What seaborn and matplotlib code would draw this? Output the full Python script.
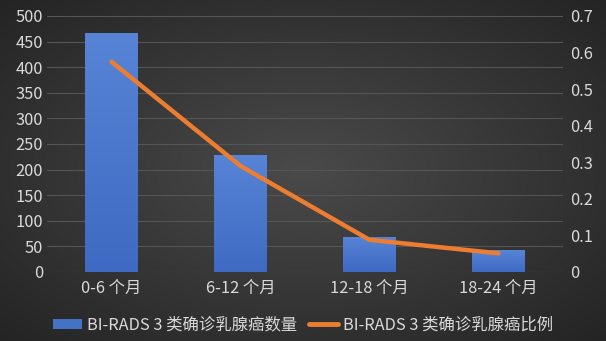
import numpy as np
import pandas as pd
import seaborn as sns
import matplotlib
matplotlib.use("Agg")
import matplotlib.pyplot as plt
from matplotlib.lines import Line2D
from matplotlib.patches import Patch

categories = ["0-6 个月", "6-12 个月", "12-18 个月", "18-24 个月"]
counts = [467, 229, 69, 42]
ratios = [0.575, 0.29, 0.088, 0.051]
left_ticks = [0, 50, 100, 150, 200, 250, 300, 350, 400, 450, 500]
right_ticks = [0, 0.1, 0.2, 0.3, 0.4, 0.5, 0.6, 0.7]
bar_label = "BI-RADS 3 类确诊乳腺癌数量"
line_label = "BI-RADS 3 类确诊乳腺癌比例"

sns.set_theme(style="dark")
plt.rcParams['font.family'] = ['Noto Sans CJK SC', 'DejaVu Sans']
FS = 11.8
TXT = "#d9d9d9"
BLUE = "#4472c4"
ORANGE = "#ed7d31"

fig = plt.figure(figsize=(6.06, 3.41), dpi=100)

# radial gradient background
bg = fig.add_axes([0, 0, 1, 1], zorder=-10)
yy, xx = np.mgrid[-1:1:341j, -1:1:606j]
r = np.sqrt(xx**2 + yy**2) / np.sqrt(2)
c0 = np.array([0x4a, 0x4a, 0x4a]) / 255
c1 = np.array([0x24, 0x24, 0x24]) / 255
img = c0[None, None, :] * (1 - r[..., None]) + c1[None, None, :] * r[..., None]
bg.imshow(img, aspect="auto", extent=[0, 1, 0, 1])
bg.set_axis_off()

df = pd.DataFrame({"cat": categories, "count": counts, "ratio": ratios})

ax = fig.add_axes([47/606, 1 - 272/341, (563-47)/606, (272-16)/341])
ax.set_facecolor("none")
sns.barplot(data=df, x="cat", y="count", color=BLUE, width=0.41, ax=ax,
            saturation=1, zorder=2, linewidth=0, edgecolor="none")
# gradient on bars
grad = np.linspace(0, 1, 100)[:, None]
top = np.array([0x57, 0x84, 0xd5]) / 255
bot = np.array([0x3e, 0x6a, 0xc3]) / 255
gimg = top[None, None, :] * (1 - grad[..., None]) + bot[None, None, :] * grad[..., None]
gimg = np.repeat(gimg, 2, axis=1)
for p in ax.patches:
    x0, y0 = p.get_x(), p.get_y()
    w, h = p.get_width(), p.get_height()
    im = ax.imshow(gimg, extent=[x0, x0 + w, y0, y0 + h], aspect="auto", zorder=2.5)
    im.set_clip_path(p)
ax.set_ylim(0, 500)
ax.set_xlim(-0.5, 3.5)
ax.set_yticks(left_ticks)
ax.set_yticklabels([str(t) for t in left_ticks])
ax.grid(axis="y", color="#555555", linewidth=0.8, zorder=0)
ax.grid(axis="x", visible=False)
ax.set_axisbelow(True)
for s in ax.spines.values():
    s.set_visible(False)
ax.tick_params(axis="both", length=0, colors=TXT, labelsize=FS)
ax.tick_params(axis="y", pad=3)
ax.tick_params(axis="x", pad=6)
ax.set_xlabel("")
ax.set_ylabel("")

ax2 = ax.twinx()
sns.pointplot(data=df, x="cat", y="ratio", color=ORANGE, markers="",
              linewidth=3.2, ax=ax2, errorbar=None)
ax2.set_ylim(0, 0.7)
ax2.set_xlim(-0.5, 3.5)
ax2.set_yticks(right_ticks)
ax2.set_yticklabels(["0"] + [f"{t:.1f}" for t in right_ticks[1:]])
ax2.tick_params(axis="y", length=0, colors=TXT, labelsize=FS, pad=5)
ax2.grid(False)
for s in ax2.spines.values():
    s.set_visible(False)
ax2.set_ylabel("")
ax2.set_xlabel("")

handles = [Patch(facecolor=BLUE, edgecolor="none"),
           Line2D([0], [0], color=ORANGE, linewidth=3.5)]
fig.legend(handles, [bar_label, line_label], loc="center",
           bbox_to_anchor=(0.5, 1 - 325/341), ncol=2, frameon=False,
           fontsize=FS, labelcolor=TXT, handlelength=1.8, handleheight=0.6,
           handletextpad=0.3, columnspacing=0.7)

fig.savefig("out.png", dpi=100)
